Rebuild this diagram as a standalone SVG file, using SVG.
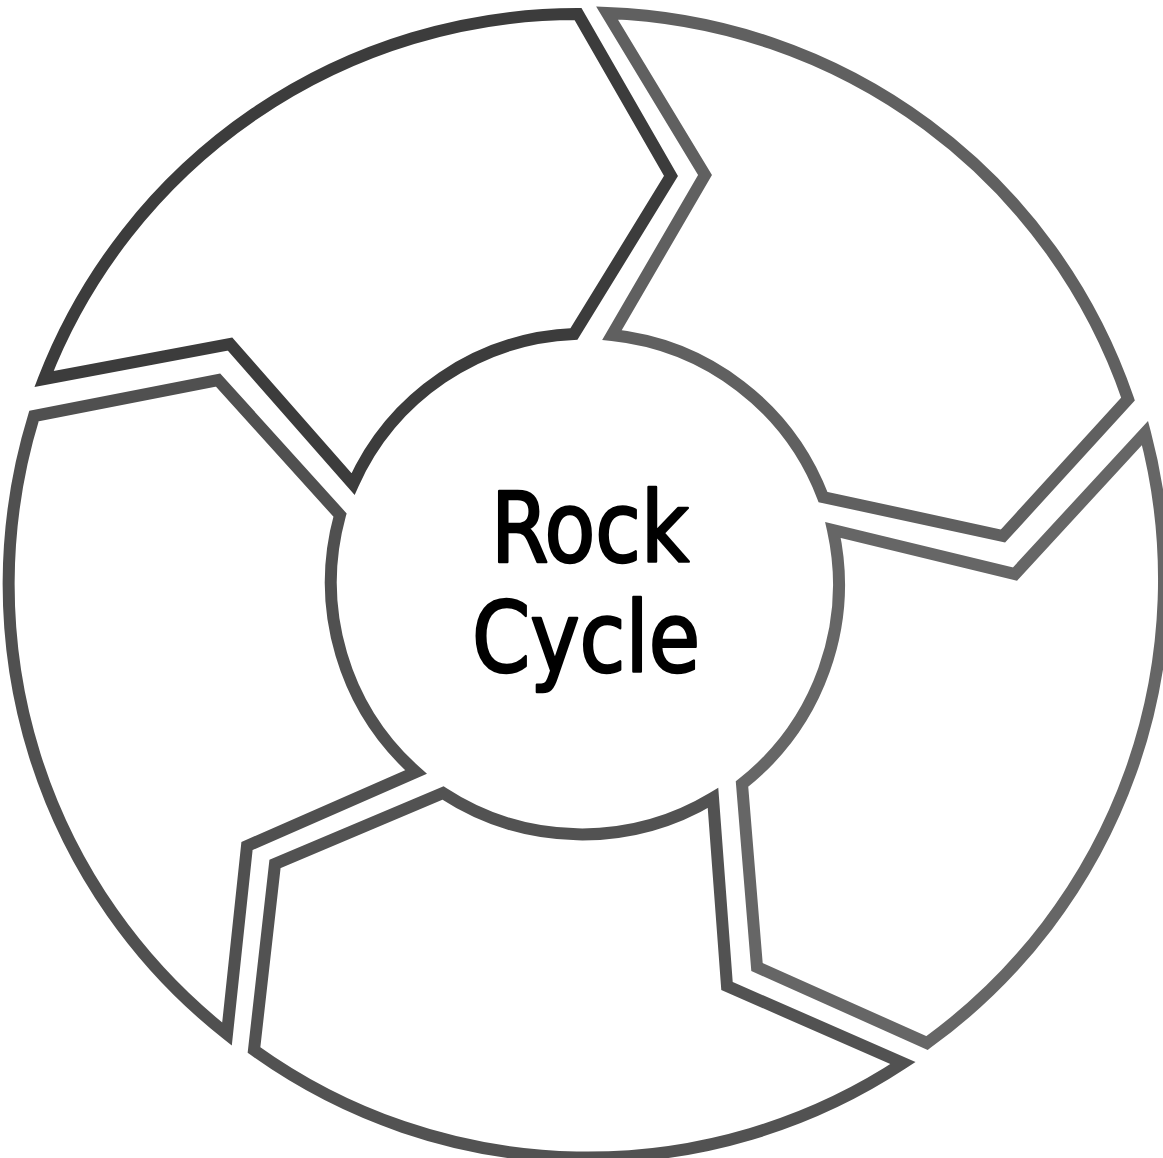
<svg xmlns="http://www.w3.org/2000/svg" width="1163" height="1158" viewBox="0 0 1163 1158">
<style>
.seg{fill:#ffffff;stroke-width:12;stroke-linejoin:miter;stroke-miterlimit:10}
.title{font-family:"DejaVu Sans Condensed","DejaVu Sans",sans-serif;font-size:98px;fill:#000000;stroke:#000000;stroke-width:2.5;stroke-linejoin:round;text-anchor:middle}
</style>
<rect width="1163" height="1158" fill="#ffffff"/>
<g id="segment-1"><path class="seg" stroke="#3c3c3c" d="M44,379 A572,572 0 0 1 578,14 L671,176 L574,334 A254,254 0 0 0 353,484 L230,344 Z"/></g>
<g id="segment-2"><path class="seg" stroke="#606060" d="M607,13 A572,572 0 0 1 1128,399 L1003,536 L823,497 A254,254 0 0 0 612,335 L705,175 Z"/></g>
<g id="segment-3"><path class="seg" stroke="#666666" d="M1145,433 A572,572 0 0 1 927,1043 L757,967 L742,784 A254,254 0 0 0 833,530 L1015,574 Z"/></g>
<g id="segment-4"><path class="seg" stroke="#525252" d="M903,1063 A572,572 0 0 1 254,1050 L275,864 L443,793 A254,254 0 0 0 713,798 L727,986 Z"/></g>
<g id="segment-5"><path class="seg" stroke="#505050" d="M227,1034 A572,572 0 0 1 34,416 L218,380 L340,515 A254,254 0 0 0 416,772 L247,846 Z"/></g>
<g id="center">
<text class="title" x="590" y="562" textLength="198" lengthAdjust="spacingAndGlyphs">Rock</text>
<text class="title" x="586" y="672" textLength="228" lengthAdjust="spacingAndGlyphs">Cycle</text>
</g>
<g id="connectors"></g>
</svg>
